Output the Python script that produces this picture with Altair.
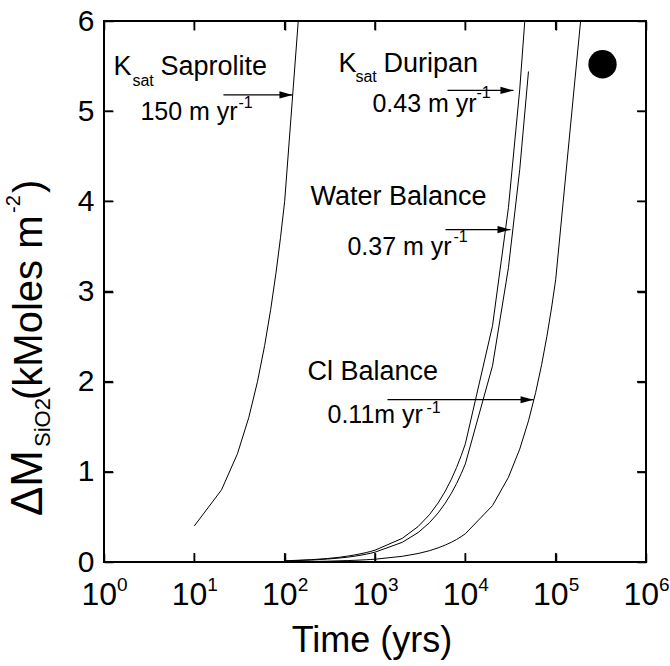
import altair as alt
import pandas as pd

FONT = "Liberation Sans"

# ---------------- data ----------------
years_saprolite = [10, 20, 30, 40, 50, 60, 70, 80, 90, 100, 200]
sio2_saprolite = [0.40, 0.80, 1.20, 1.60, 2.00, 2.40, 2.80, 3.20, 3.60, 4.00, 8.00]

years_model = [100, 200, 300, 400, 500, 600, 700, 800, 900,
               1000, 2000, 3000, 4000, 5000, 6000, 7000, 8000, 9000,
               10000, 20000, 30000, 40000, 50000]
sio2_duripan = [0.013, 0.026, 0.039, 0.052, 0.066, 0.079, 0.092, 0.105, 0.118,
                0.131, 0.262, 0.393, 0.524, 0.655, 0.786, 0.917, 1.048, 1.179,
                1.31, 2.62, 3.93, 5.24, 6.55]
sio2_water = [0.011, 0.022, 0.033, 0.044, 0.054, 0.065, 0.076, 0.087, 0.098,
              0.109, 0.218, 0.326, 0.435, 0.544, 0.653, 0.762, 0.870, 0.979,
              1.088, 2.176, 3.264, 4.352, 5.44]
years_cl = [100, 200, 300, 400, 500, 600, 700, 800, 900,
            1000, 2000, 3000, 4000, 5000, 6000, 7000, 8000, 9000,
            10000, 20000, 30000, 40000, 50000, 60000, 70000, 80000, 90000,
            100000, 200000]
sio2_cl = [0.003, 0.006, 0.009, 0.013, 0.016, 0.019, 0.022, 0.025, 0.028,
           0.031, 0.063, 0.094, 0.125, 0.157, 0.188, 0.219, 0.250, 0.282,
           0.313, 0.626, 0.939, 1.252, 1.565, 1.878, 2.191, 2.504, 2.817,
           3.13, 6.26]

series_names = ["Ksat Saprolite", "Ksat Duripan", "Water Balance", "Cl Balance"]

marker_time = [330000]
marker_value = [5.52]

x_tick_values = [1, 10, 100, 1000, 10000, 100000, 1000000]
x_tick_exponents = ["0", "1", "2", "3", "4", "5", "6"]
y_tick_values = [0, 1, 2, 3, 4, 5, 6]

# annotation arrows (start time, end time, level)
arrow_start = [21, 6350, 6040, 1375]
arrow_end = [122, 34100, 31600, 56900]
arrow_level = [5.18, 5.23, 3.686, 1.80]

# annotation anchors (time, level) for each label block
label_time = [1.27, 394, 193, 179]
label_level = [5.405, 5.438, 3.963, 2.023]
rate_texts = ["150 m yr", "0.43 m yr", "0.37 m yr", "0.11m yr"]

# ---------------- tables ----------------
W, H = 542, 541
TICK_PX = 9
X_MIN, X_MAX = 1, 1000000
Y_MIN, Y_MAX = 0, 6

curves = pd.concat([
    pd.DataFrame({"years": years_saprolite, "sio2": sio2_saprolite, "series": series_names[0]}),
    pd.DataFrame({"years": years_model, "sio2": sio2_duripan, "series": series_names[1]}),
    pd.DataFrame({"years": years_model, "sio2": sio2_water, "series": series_names[2]}),
    pd.DataFrame({"years": years_cl, "sio2": sio2_cl, "series": series_names[3]}),
], ignore_index=True)

arrows = pd.DataFrame({"x0": arrow_start, "x1": arrow_end, "y": arrow_level})
marker = pd.DataFrame({"t": marker_time, "v": marker_value})
xticks = pd.DataFrame({"t": x_tick_values, "e": x_tick_exponents})
yticks = pd.DataFrame({"v": y_tick_values})
box = pd.DataFrame({"x0": [X_MIN], "x1": [X_MAX], "y0": [Y_MIN], "y1": [Y_MAX]})
one = pd.DataFrame({"a": [0]})

xscale = alt.Scale(type="log", domain=[X_MIN, X_MAX])
yscale = alt.Scale(domain=[Y_MIN, Y_MAX], nice=False, zero=False)


def X(f):
    return alt.X(f, type="quantitative", scale=xscale, axis=None)


def Y(f):
    return alt.Y(f, type="quantitative", scale=yscale, axis=None)


tick_common = dict(domain=False, grid=False, title=None, ticks=True,
                   tickSize=TICK_PX, tickWidth=1.5, tickColor="black", offset=-TICK_PX)

lines = alt.Chart(curves).mark_line(color="black", strokeWidth=1, clip=True).encode(
    x=alt.X("years:Q", scale=xscale,
            axis=alt.Axis(orient="bottom", values=x_tick_values, labels=False, **tick_common)),
    y=alt.Y("sio2:Q", scale=yscale,
            axis=alt.Axis(orient="left", values=y_tick_values, format="d",
                          labelFont=FONT, labelFontSize=30, labelColor="black",
                          labelPadding=10, labelFlush=False, labelOverlap=False,
                          **tick_common)),
    detail="series:N",
)

dot = alt.Chart(marker).mark_circle(color="black", opacity=1, size=804).encode(
    x=alt.X("t:Q", scale=xscale,
            axis=alt.Axis(orient="top", values=x_tick_values, labels=False, **tick_common)),
    y=alt.Y("v:Q", scale=yscale,
            axis=alt.Axis(orient="right", values=y_tick_values, labels=False, **tick_common)),
)

# plot frame (rectangle over the full scale domain)
frame = alt.Chart(box).mark_rect(
    fillOpacity=0, stroke="black", strokeWidth=2, strokeOpacity=1,
).encode(x=X("x0"), x2="x1:Q", y=Y("y0"), y2="y1:Q")

# inward ticks drawn as short line symbols
vtick = "M0,-1L0,1"
htick = "M-1,0L1,0"
tick_style = dict(filled=False, color="black", opacity=1, strokeWidth=1.5,
                  size=TICK_PX * TICK_PX)
tick_bottom = alt.Chart(xticks).mark_point(shape=vtick, **tick_style).encode(
    x=X("t"), y=alt.value(H - TICK_PX / 2))
tick_top = alt.Chart(xticks).mark_point(shape=vtick, **tick_style).encode(
    x=X("t"), y=alt.value(TICK_PX / 2))
tick_left = alt.Chart(yticks).mark_point(shape=htick, **tick_style).encode(
    y=Y("v"), x=alt.value(TICK_PX / 2))
tick_right = alt.Chart(yticks).mark_point(shape=htick, **tick_style).encode(
    y=Y("v"), x=alt.value(W - TICK_PX / 2))

arrow_lines = alt.Chart(arrows).mark_rule(color="black", strokeWidth=1.2).encode(
    x=X("x0"), x2="x1:Q", y=Y("y"))
arrow_heads = alt.Chart(arrows).mark_point(
    shape="M0,0L-2,-0.55L-2,0.55Z", filled=True, color="black", opacity=1,
    size=169, strokeWidth=0,
).encode(x=X("x1"), y=Y("y"))

# x tick labels: "10" with superscript exponent
tick_base = alt.Chart(xticks).mark_text(
    text="10", font=FONT, fontSize=32, align="right", baseline="alphabetic",
    dx=13, color="black",
).encode(x=X("t"), y=alt.value(584))
tick_sup = alt.Chart(xticks).mark_text(
    font=FONT, fontSize=19, align="left", baseline="alphabetic", dx=13, color="black",
).encode(x=X("t"), y=alt.value(570), text="e:N")


def piece(i, text, dx, dy, size):
    df = pd.DataFrame({"t": [label_time[i]], "v": [label_level[i]]})
    return alt.Chart(df).mark_text(
        text=text, font=FONT, fontSize=size, align="left", baseline="alphabetic",
        dx=dx, dy=dy, color="black",
    ).encode(x=X("t"), y=Y("v"))


labels = [
    # Ksat Saprolite
    piece(0, "K", 0, 0, 27), piece(0, "sat", 19, 11, 16), piece(0, "Saprolite", 47, 0, 27),
    piece(0, rate_texts[0], 27, 45, 25), piece(0, "-1", 125, 33, 16),
    # Ksat Duripan
    piece(1, "K", 0, 0, 27), piece(1, "sat", 17, 10, 16), piece(1, "Duripan", 45, 0, 27),
    piece(1, rate_texts[1], 34, 40, 25), piece(1, "-1", 138, 26, 16),
    # Water Balance
    piece(2, "Water Balance", 0, 0, 27),
    piece(2, rate_texts[2], 37, 50, 25), piece(2, "-1", 143, 37, 16),
    # Cl Balance
    piece(3, "Cl Balance", 0, 0, 27),
    piece(3, rate_texts[3], 20, 43, 25), piece(3, "-1", 119, 33, 16),
]


def title_piece(text, x, y, size, align):
    return alt.Chart(one).mark_text(
        text=text, font=FONT, fontSize=size, angle=270, align=align,
        baseline="alphabetic", color="black",
    ).encode(x=alt.value(x), y=alt.value(y))


y_title = [
    title_piece("ΔM", -62, 429, 44, "right"),
    title_piece("SiO2", -54, 426, 22, "left"),
    title_piece("(kMoles m", -62, 379, 40, "left"),
    title_piece("-2", -84, 192, 20, "left"),
    title_piece(")", -62, 172, 40, "left"),
]

x_title = alt.Chart(one).mark_text(
    text="Time (yrs)", font=FONT, fontSize=36, align="center", baseline="alphabetic",
    color="black",
).encode(x=alt.value(268), y=alt.value(631))

chart = alt.layer(
    lines, dot, arrow_lines, arrow_heads, tick_base, tick_sup, x_title,
    *labels, *y_title, frame, tick_bottom, tick_top, tick_left, tick_right,
).resolve_axis(x="independent", y="independent").properties(
    width=W, height=H,
    padding={"left": 104, "top": 21, "right": 24, "bottom": 104},
    autosize=alt.AutoSizeParams(type="none"),
    background="white",
).configure_view(stroke="black", strokeWidth=2)

chart.save("out.html", embed_options={"renderer": "svg", "actions": False})
